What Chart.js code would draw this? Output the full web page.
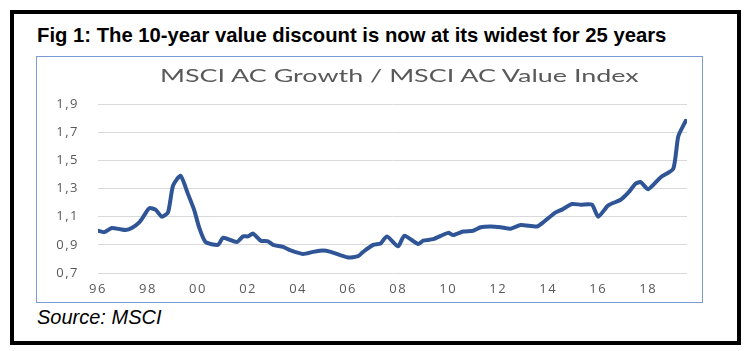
<!DOCTYPE html>
<html>
<head>
<meta charset="utf-8">
<script src="https://cdn.jsdelivr.net/npm/chart.js@4/dist/chart.umd.min.js"></script>
<style>
  html, body { margin: 0; padding: 0; background: #ffffff; width: 751px; height: 351px; overflow: hidden; }
  #frame { position: absolute; left: 10px; top: 10px; width: 731px; height: 335px; box-sizing: border-box; border: 4px solid #000; }
  #figTitle { position: absolute; left: 37px; top: 23px; font-family: "Liberation Sans Narrow", "Liberation Sans", Arial, sans-serif; font-weight: bold; font-size: 21px; color: #000; white-space: nowrap; transform-origin: left top; }
  #source { position: absolute; left: 37px; top: 306px; font-family: "Liberation Sans", Arial, sans-serif; font-style: italic; font-size: 20px; color: #000; white-space: nowrap; }
  #box { position: absolute; left: 36px; top: 56px; width: 667px; height: 247px; box-sizing: border-box; border: 1px solid #7a9bd3; }
  #wrap { position: absolute; left: 0; top: 0; width: 665px; height: 245px; }
  #chartTitle { position: absolute; top: 67px; left: 0; font-family: Lato, "Open Sans", sans-serif; font-size: 17px; line-height: 17px; color: #595959; white-space: nowrap; transform-origin: left top; }
</style>
</head>
<body>
<div id="frame"></div>
<div id="figTitle">Fig 1: The 10-year value discount is now at its widest for 25 years</div>
<div id="box"><div id="wrap"><canvas id="c"></canvas></div></div>
<div id="chartTitle"></div>
<div id="source">Source: MSCI</div>
<script>
// Data (x = year, y = ratio)
const years = [1996.0, 1996.25, 1996.55, 1996.9, 1997.1, 1997.35, 1997.65, 1997.85, 1998.05, 1998.3,
  1998.55, 1998.8, 1999.0, 1999.3, 1999.6, 1999.85, 2000.05, 2000.3, 2000.8, 2001.0,
  2001.55, 2001.8, 2002.0, 2002.2, 2002.5, 2002.8, 2003.0, 2003.4, 2003.7, 2004.2,
  2004.6, 2005.0, 2005.3, 2006.0, 2006.4, 2006.6, 2007.0, 2007.3, 2007.55, 2008.0,
  2008.25, 2008.8, 2009.0, 2009.4, 2010.0, 2010.2, 2010.6, 2011.0, 2011.3, 2011.7,
  2012.1, 2012.5, 2012.9, 2013.55, 2013.8, 2014.3, 2014.55, 2014.95, 2015.3, 2015.75,
  2016.0, 2016.4, 2016.9, 2017.2, 2017.5, 2017.7, 2018.0, 2018.5, 2019.0, 2019.2, 2019.5];
const ratio = [1.00, 0.99, 1.02, 1.01, 1.005, 1.02, 1.06, 1.11, 1.16, 1.15,
  1.10, 1.13, 1.32, 1.39, 1.26, 1.145, 1.02, 0.92, 0.90, 0.95,
  0.92, 0.96, 0.96, 0.98, 0.93, 0.925, 0.90, 0.885, 0.86, 0.835,
  0.85, 0.86, 0.85, 0.81, 0.82, 0.85, 0.90, 0.91, 0.96, 0.89,
  0.965, 0.905, 0.93, 0.94, 0.985, 0.97, 0.995, 1.00, 1.025, 1.03,
  1.025, 1.015, 1.04, 1.03, 1.06, 1.13, 1.15, 1.19, 1.185, 1.185,
  1.10, 1.18, 1.22, 1.27, 1.335, 1.345, 1.295, 1.38, 1.44, 1.67, 1.78];
const xTickYears = [1996, 1998, 2000, 2002, 2004, 2006, 2008, 2010, 2012, 2014, 2016, 2018];
const xTickLabels = ["96", "98", "00", "02", "04", "06", "08", "10", "12", "14", "16", "18"];
const yTicks = [0.7, 0.9, 1.1, 1.3, 1.5, 1.7, 1.9];
const chartTitle = "MSCI AC Growth / MSCI AC Value Index";

// Fit the heading texts to the widths they take in the reference
const ft = document.getElementById('figTitle');
ft.style.transform = 'scaleX(' + (629 / ft.offsetWidth) + ')';
const ct = document.getElementById('chartTitle');
ct.textContent = chartTitle;
const ctW = ct.offsetWidth;
ct.style.left = (399 - 478 / 2) + 'px';
ct.style.transform = 'scaleX(' + (478 / ctW) + ')';

const points = years.map((x, i) => ({ x: x, y: ratio[i] }));

const spacing = {
  id: 'spacing',
  beforeDraw(chart) { chart.ctx.letterSpacing = '1.5px'; },
  afterDraw(chart) { chart.ctx.letterSpacing = '0px'; }
};

new Chart(document.getElementById('c'), {
  type: 'line',
  data: { datasets: [{ data: points, borderColor: '#2f5597', borderWidth: 4, pointRadius: 0, tension: 0.2, fill: false, borderCapStyle: 'round', borderJoinStyle: 'round' }] },
  plugins: [spacing],
  options: {
    responsive: true, maintainAspectRatio: false, animation: false,
    layout: { padding: { left: 0, right: 15, top: 47, bottom: 0 } },
    plugins: { legend: { display: false }, tooltip: { enabled: false }, title: { display: false } },
    scales: {
      x: { type: 'linear', min: 1996, max: 2019.55,
        afterBuildTicks: (s) => { s.ticks = xTickYears.map(v => ({ value: v })); },
        afterFit: (s) => { s.height = 29; },
        grid: { display: false }, border: { display: false },
        ticks: { color: '#595959', padding: 0, maxRotation: 0, autoSkip: false,
          font: { family: '"Open Sans", sans-serif', size: 13 },
          callback: (v) => { const i = xTickYears.indexOf(v); return i >= 0 ? xTickLabels[i] : ''; } } },
      y: { min: 0.7, max: 1.9,
        afterBuildTicks: (s) => { s.ticks = yTicks.map(v => ({ value: v })); },
        afterFit: (s) => { s.width = 61; },
        grid: { color: '#d9d9d9', lineWidth: 1, drawTicks: false }, border: { display: false },
        ticks: { color: '#595959', padding: 19,
          font: { family: '"Open Sans", sans-serif', size: 13 },
          callback: (v) => v.toFixed(1).replace('.', ',') } }
    }
  }
});
</script>
</body>
</html>
